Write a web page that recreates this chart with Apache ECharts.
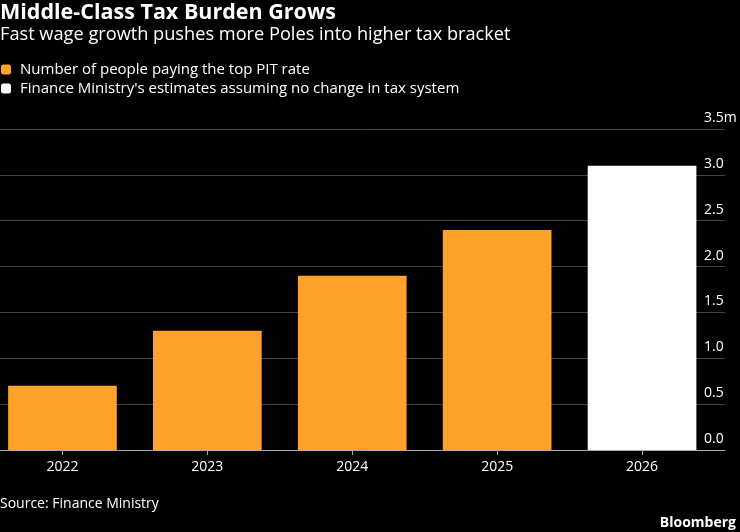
<!DOCTYPE html>
<html>
<head>
<meta charset="utf-8">
<script src="https://cdn.jsdelivr.net/npm/echarts@6/dist/echarts.min.js"></script>
<style>
html,body{margin:0;padding:0;background:#000;overflow:hidden;}
#c{position:absolute;left:-10px;top:0;width:750px;height:532px;}
</style>
</head>
<body>
<div id="c"></div>
<script>
const years = ['2022', '2023', '2024', '2025', '2026'];
const actual = [0.70, 1.30, 1.90, 2.40, null];
const estimate = [null, null, null, null, 3.10];
const yTicks = [0, 0.5, 1.0, 1.5, 2.0, 2.5, 3.0, 3.5];
const seriesNames = ['Number of people paying the top PIT rate', "Finance Ministry's estimates assuming no change in tax system"];

const FONT = 'Open Sans';
const OFF = 10; // chart container is shifted left by this many px
const chart = echarts.init(document.getElementById('c'), null, {renderer: 'canvas'});
chart.setOption({
  backgroundColor: '#000',
  animation: false,
  textStyle: {fontFamily: FONT},
  title: [
    {text: 'Middle-Class Tax Burden Grows', left: OFF, top: 2, padding: 0,
     textStyle: {color: '#fff', fontSize: 21.5, fontWeight: 'bold', fontFamily: FONT}},
    {text: 'Fast wage growth pushes more Poles into higher tax bracket', left: OFF, top: 26, padding: 0,
     textStyle: {color: '#fff', fontSize: 18.2, fontWeight: 'normal', fontFamily: FONT}},
    {text: 'Source: Finance Ministry', left: OFF, top: 497, padding: 0,
     textStyle: {color: '#fff', fontSize: 14, fontWeight: 'normal', fontFamily: FONT}},
    {text: 'Bloomberg', right: 4, top: 516, padding: 0,
     textStyle: {color: '#fff', fontSize: 14, fontWeight: 'bold', fontFamily: FONT}}
  ],
  legend: {
    orient: 'vertical', left: OFF + 1, top: 60, itemWidth: 10, itemHeight: 10, itemGap: 0,
    padding: 0, icon: 'roundRect',
    textStyle: {color: '#fff', fontSize: 15, fontFamily: FONT, lineHeight: 19, padding: [0, 0, 0, 4]},
    data: seriesNames
  },
  grid: [
    {left: OFF, right: 15, top: 129, bottom: 82},
    {left: 0, right: 25.5, top: 129, bottom: 82}
  ],
  xAxis: [
    {type: 'category', gridIndex: 0, data: years,
     axisLine: {show: true, lineStyle: {color: '#aaa', width: 1}},
     axisTick: {show: false}, axisLabel: {show: false}, splitLine: {show: false}},
    {type: 'category', gridIndex: 1, data: years,
     axisLine: {show: false},
     axisTick: {show: true, alignWithLabel: true, length: 5, lineStyle: {color: '#aaa'}},
     axisLabel: {color: '#fff', fontSize: 14, margin: 10, fontFamily: FONT}}
  ],
  yAxis: [
    {type: 'value', gridIndex: 0, position: 'right', min: 0, max: 3.5, interval: 0.5,
     axisLine: {show: false}, axisTick: {show: false},
     splitLine: {show: true, lineStyle: {color: '#444', width: 1}},
     axisLabel: {color: '#fff', fontSize: 14, margin: -21, align: 'left', verticalAlign: 'bottom',
       padding: [0, 0, 4, 0], fontFamily: FONT,
       formatter: v => v === yTicks[yTicks.length - 1] ? v.toFixed(1) + 'm' : v.toFixed(1)}},
    {type: 'value', gridIndex: 1, min: 0, max: 3.5, interval: 0.5, show: false}
  ],
  series: [
    {name: seriesNames[0], type: 'bar', xAxisIndex: 1, yAxisIndex: 1, stack: 's', data: actual,
     barCategoryGap: '25%', itemStyle: {color: '#ffa12b'}},
    {name: seriesNames[1], type: 'bar', xAxisIndex: 1, yAxisIndex: 1, stack: 's', data: estimate,
     barCategoryGap: '25%', itemStyle: {color: '#ffffff'}}
  ]
});
</script>
</body>
</html>
